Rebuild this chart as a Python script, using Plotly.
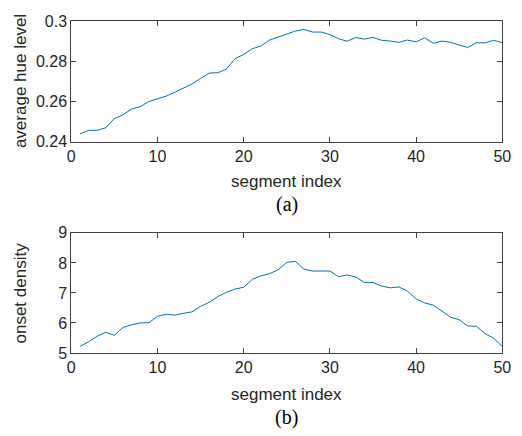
import plotly.graph_objects as go

segment_index = list(range(1, 51))
hue_level = [0.2438, 0.2456, 0.2456, 0.2469, 0.2515, 0.2534, 0.2563, 0.2574, 0.2600, 0.2614,
             0.2627, 0.2646, 0.2667, 0.2688, 0.2715, 0.2742, 0.2744, 0.2762, 0.2814, 0.2835,
             0.2864, 0.2877, 0.2907, 0.2923, 0.2939, 0.2952, 0.2960, 0.2947, 0.2947, 0.2934,
             0.2914, 0.2901, 0.2920, 0.2912, 0.2920, 0.2906, 0.2902, 0.2896, 0.2907, 0.2898,
             0.2918, 0.2891, 0.2902, 0.2896, 0.2882, 0.2870, 0.2894, 0.2893, 0.2906, 0.2894]
onset_density = [5.22, 5.37, 5.56, 5.69, 5.59, 5.85, 5.94, 6.00, 6.01, 6.22,
                 6.29, 6.26, 6.32, 6.37, 6.55, 6.69, 6.88, 7.02, 7.13, 7.19,
                 7.45, 7.57, 7.64, 7.77, 8.02, 8.05, 7.79, 7.73, 7.73, 7.73,
                 7.54, 7.60, 7.53, 7.35, 7.35, 7.23, 7.17, 7.20, 7.06, 6.80,
                 6.67, 6.59, 6.40, 6.19, 6.11, 5.90, 5.89, 5.65, 5.49, 5.22]

x_ticks = [0, 10, 20, 30, 40, 50]
hue_ticks = [0.24, 0.26, 0.28, 0.3]
hue_tick_text = ["0.24", "0.26", "0.28", "0.3"]
onset_ticks = [5, 6, 7, 8, 9]
onset_tick_text = ["5", "6", "7", "8", "9"]

W, H = 522, 436
line_color = "#0072BD"
axis_color = "#404040"
text_color = "#262626"
font_sans = "Liberation Sans, Arial, sans-serif"
font_serif = "Liberation Serif, Times New Roman, serif"

fig = go.Figure()
fig.add_trace(go.Scatter(x=segment_index, y=hue_level, mode="lines",
                         line=dict(color=line_color, width=1), xaxis="x", yaxis="y"))
fig.add_trace(go.Scatter(x=segment_index, y=onset_density, mode="lines",
                         line=dict(color=line_color, width=1), xaxis="x2", yaxis="y2"))

xd = [69 / W, 511 / W]
top_dom = [1 - 139 / H, 1 - 14 / H]
bot_dom = [1 - 359 / H, 1 - 234 / H]

common = dict(showline=True, linecolor=axis_color, linewidth=1, mirror="ticks",
              ticks="inside", ticklen=5, tickcolor=axis_color, tickwidth=1,
              showgrid=False, zeroline=False,
              tickfont=dict(family=font_sans, size=16, color=text_color))

fig.update_layout(
    width=W, height=H, margin=dict(l=0, r=0, t=0, b=0),
    paper_bgcolor="white", plot_bgcolor="white", showlegend=False,
    xaxis=dict(domain=xd, range=[0, 50], tickvals=x_ticks, anchor="y", **common),
    yaxis=dict(domain=top_dom, range=[0.24, 0.3], tickvals=hue_ticks, ticktext=hue_tick_text,
               anchor="x", **common),
    xaxis2=dict(domain=xd, range=[0, 50], tickvals=x_ticks, anchor="y2", **common),
    yaxis2=dict(domain=bot_dom, range=[5, 9], tickvals=onset_ticks, ticktext=onset_tick_text,
                anchor="x2", **common),
)

cx = (69 + 511) / 2 / W
ann = [
    dict(text="segment index", x=cx, y=1 - 181 / H, font=dict(family=font_sans, size=17, color=text_color)),
    dict(text="(a)", x=cx, y=1 - 204 / H, font=dict(family=font_serif, size=20, color="black")),
    dict(text="segment index", x=cx, y=1 - 402 / H, font=dict(family=font_sans, size=17, color=text_color)),
    dict(text="(b)", x=cx, y=1 - 426 / H, font=dict(family=font_serif, size=20, color="black")),
    dict(text="average hue level", x=17 / W, y=(top_dom[0] + top_dom[1]) / 2, textangle=-90,
         font=dict(family=font_sans, size=17, color=text_color)),
    dict(text="onset density", x=17 / W, y=(bot_dom[0] + bot_dom[1]) / 2, textangle=-90,
         font=dict(family=font_sans, size=17, color=text_color)),
]
for a in ann:
    a.update(xref="paper", yref="paper", showarrow=False, xanchor="center", yanchor="middle")
fig.update_layout(annotations=ann)

fig.write_html("out.html")
